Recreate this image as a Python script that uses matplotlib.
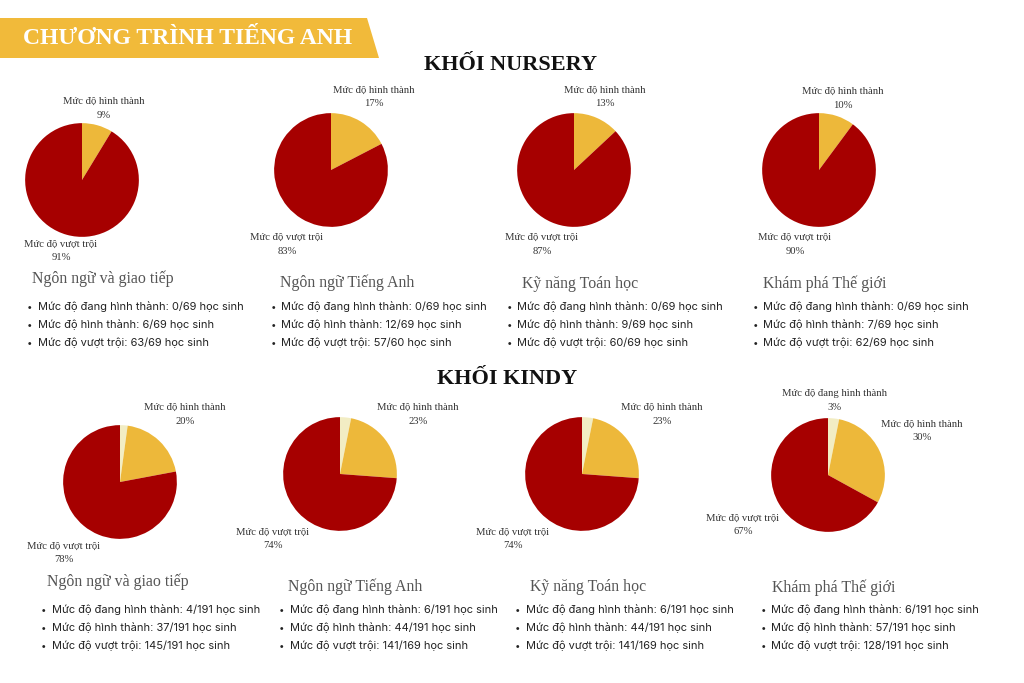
import matplotlib
matplotlib.use("Agg")
import matplotlib.pyplot as plt
from matplotlib.patches import Polygon

W, H = 1024, 683

# ---------------- data ----------------
title = "CHƯƠNG TRÌNH TIẾNG ANH"
groups = ["KHỐI NURSERY", "KHỐI KINDY"]
subjects = ["Ngôn ngữ và giao tiếp", "Ngôn ngữ Tiếng Anh", "Kỹ năng Toán học", "Khám phá Thế giới"]
levels = ["Mức độ đang hình thành", "Mức độ hình thành", "Mức độ vượt trội"]

nursery_counts = [[0, 6, 63], [0, 12, 57], [0, 9, 60], [0, 7, 62]]
nursery_totals = [[69, 69, 69], [69, 69, 60], [69, 69, 69], [69, 69, 69]]
kindy_counts = [[4, 37, 145], [6, 44, 141], [6, 44, 141], [6, 57, 128]]
kindy_totals = [[191, 191, 191], [191, 191, 169], [191, 191, 169], [191, 191, 191]]

# percentage labels shown on each pie (None = not labelled)
nursery_pct = [[None, "9%", "91%"], [None, "17%", "83%"], [None, "13%", "87%"], [None, "10%", "90%"]]
kindy_pct = [[None, "20%", "78%"], [None, "23%", "74%"], [None, "23%", "74%"], ["3%", "30%", "67%"]]

colors = ["#F2EDC4", "#EDB83A", "#A60000"]
banner_color = "#F1BA3A"

# ---------------- layout (pixels) ----------------
nursery_pies = [(82, 180), (331, 170), (574, 170), (819, 170)]
kindy_pies = [(120, 482), (340, 474), (582, 474), (828, 475)]
R = 58

nursery_lbl = [
    [None, (104, 101), (61, 244)],
    [None, (374, 90), (287, 237)],
    [None, (605, 90), (542, 237)],
    [None, (843, 91), (795, 237)],
]
kindy_lbl = [
    [None, (185, 407), (64, 546)],
    [None, (418, 407), (273, 532)],
    [None, (662, 407), (513, 532)],
    [(835, 394), (922, 424), (743, 518)],
]

nursery_sub = [(32, 279), (280, 283), (522, 284), (763, 284)]
kindy_sub = [(47, 582), (288, 587), (530, 587), (772, 588)]
nursery_bul = [(30, 307), (273, 307), (509, 307), (755, 307)]
kindy_bul = [(44, 610), (282, 610), (518, 610), (763, 610)]
line_gap = 18

fig = plt.figure(figsize=(W / 100, H / 100), dpi=100)
fig.patch.set_facecolor("white")

bg = fig.add_axes([0, 0, 1, 1])
bg.set_xlim(0, W)
bg.set_ylim(H, 0)
bg.axis("off")

# banner
bg.add_patch(Polygon([(0, 18), (367, 18), (379, 58), (0, 58)], closed=True,
                     facecolor=banner_color, edgecolor="none"))
bg.text(188, 39, title, fontsize=17, fontweight="bold", color="white",
        family="Liberation Serif", ha="center", va="center")

bg.text(510, 65, groups[0], fontsize=16, fontweight="bold", color="#111111",
        family="Liberation Serif", ha="center", va="center")
bg.text(507, 379, groups[1], fontsize=16, fontweight="bold", color="#111111",
        family="Liberation Serif", ha="center", va="center")

serif = "Liberation Serif"
sans = "Inter"


def draw_block(centers, counts, pcts, lbls, subs, buls, totals):
    for i, (cx, cy) in enumerate(centers):
        ax = fig.add_axes([(cx - R) / W, 1 - (cy + R) / H, 2 * R / W, 2 * R / H])
        vals = counts[i]
        ax.pie(vals, colors=colors, startangle=90, counterclock=False, radius=1,
               wedgeprops=dict(linewidth=0))
        ax.set_xlim(-1.02, 1.02)
        ax.set_ylim(-1.02, 1.02)
        ax.set_aspect("equal")
        ax.axis("off")
        for j in range(3):
            if pcts[i][j] is None or lbls[i][j] is None:
                continue
            lx, ly = lbls[i][j]
            bg.text(lx, ly, levels[j], fontsize=7.7, color="#333333", family=serif,
                    ha="center", va="center")
            bg.text(lx, ly + 14, pcts[i][j], fontsize=7.7, color="#333333", family=serif,
                    ha="center", va="center")
        sx, sy = subs[i]
        bg.text(sx, sy, subjects[i], fontsize=11.4, color="#555555", family=serif,
                ha="left", va="center")
        bx, by = buls[i]
        for j in range(3):
            y = by + j * line_gap
            bg.text(bx, y, "•", fontsize=7, color="#222222", family=sans,
                    ha="center", va="center")
            bg.text(bx + 8, y, f"{levels[j]}: {counts[i][j]}/{totals[i][j]} học sinh",
                    fontsize=7.95, color="#222222", family=sans, ha="left", va="center")


draw_block(nursery_pies, nursery_counts, nursery_pct, nursery_lbl, nursery_sub, nursery_bul, nursery_totals)
draw_block(kindy_pies, kindy_counts, kindy_pct, kindy_lbl, kindy_sub, kindy_bul, kindy_totals)

fig.savefig("out.png", dpi=100, facecolor="white")
